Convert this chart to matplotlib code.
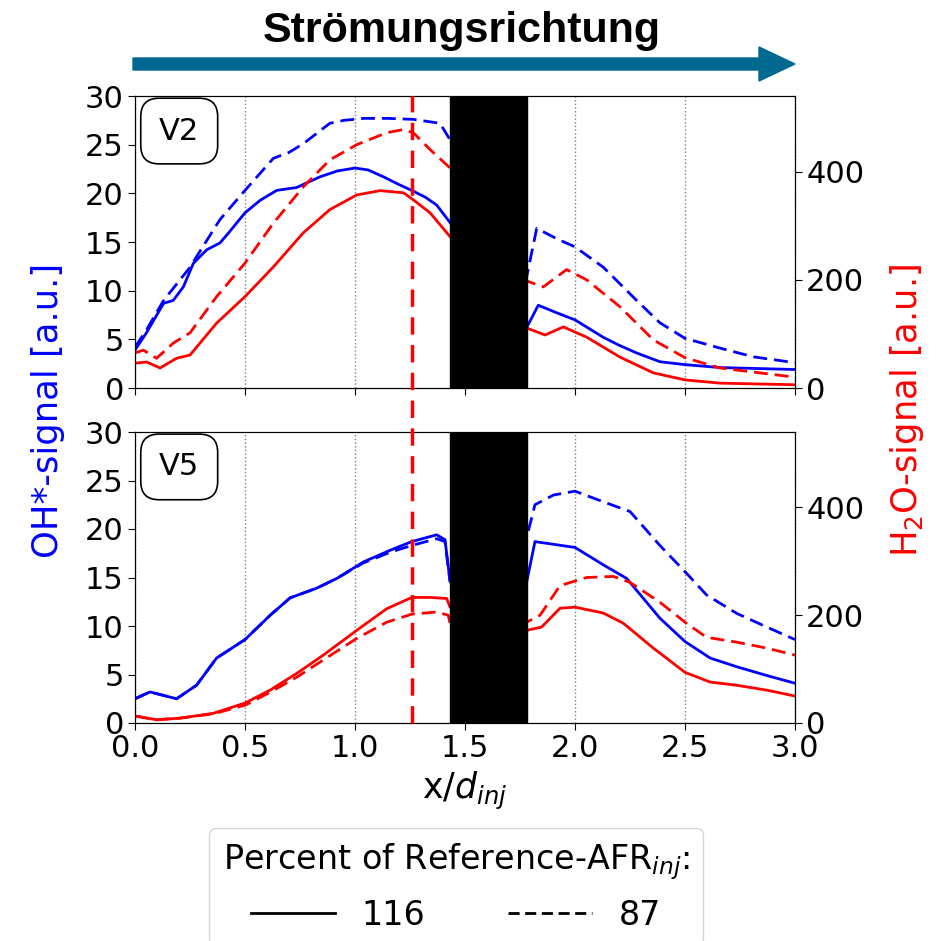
import matplotlib
matplotlib.use("Agg")
import matplotlib.pyplot as plt
from matplotlib.patches import FancyArrow
from matplotlib.lines import Line2D

# ---------------- data ----------------
# V2 (top panel)
v2_oh116_x = [0, 0.05, 0.13, 0.174, 0.22, 0.265, 0.326, 0.386, 0.424, 0.5, 0.57, 0.644, 0.735, 0.841, 0.92, 1.0, 1.06,
              1.129, 1.2, 1.258, 1.32, 1.371, 1.432,
              1.78, 1.833, 1.92, 2.0, 2.129, 2.2, 2.28, 2.386, 2.5, 2.659, 3.0]
v2_oh116_y = [3.9, 5.6, 8.7, 9.0, 10.4, 12.8, 14.2, 14.9, 15.9, 18.0, 19.3, 20.3, 20.6, 21.7, 22.3, 22.6, 22.4,
              21.7, 20.9, 20.3, 19.6, 18.8, 17.0,
              6.2, 8.5, 7.7, 7.0, 5.2, 4.4, 3.6, 2.7, 2.4, 2.1, 1.9]
v2_oh87_x = [0, 0.053, 0.13, 0.25, 0.28, 0.386, 0.5, 0.629, 0.7, 0.765, 0.886, 0.95, 1.038, 1.15, 1.265, 1.386, 1.432,
             1.78, 1.826, 1.92, 2.0, 2.129, 2.28, 2.386, 2.5, 2.659, 2.811, 3.0]
v2_oh87_y = [4.2, 6.0, 9.0, 12.4, 13.5, 17.3, 20.3, 23.6, 24.2, 25.1, 27.2, 27.5, 27.7, 27.7, 27.6, 27.2, 25.5,
             11.4, 16.4, 15.3, 14.5, 12.4, 9.0, 6.7, 5.1, 4.1, 3.2, 2.6]
v2_h2o116_x = [0, 0.053, 0.114, 0.189, 0.25, 0.371, 0.5, 0.629, 0.765, 0.886, 1.008, 1.114, 1.22, 1.265, 1.341, 1.432,
               1.78, 1.864, 1.947, 2.053, 2.205, 2.356, 2.5, 2.659, 3.0]
v2_h2o116_y = [46, 48, 37, 55, 61, 120, 169, 224, 287, 330, 357, 365, 361, 348, 324, 280,
               111, 98, 113, 94, 57, 28, 15, 9, 6]
v2_h2o87_x = [0, 0.038, 0.098, 0.174, 0.25, 0.371, 0.5, 0.629, 0.765, 0.886, 1.008, 1.144, 1.22, 1.265, 1.341, 1.432,
              1.78, 1.856, 1.962, 2.053, 2.205, 2.356, 2.5, 2.659, 3.0]
v2_h2o87_y = [65, 70, 55, 83, 102, 169, 231, 305, 372, 422, 450, 472, 478, 472, 441, 407,
              198, 187, 219, 200, 150, 89, 56, 37, 20]

# V5 (bottom panel)
v5_oh116_x = [0, 0.068, 0.189, 0.28, 0.371, 0.5, 0.614, 0.705, 0.826, 0.917, 1.038, 1.159, 1.258, 1.371, 1.409, 1.432,
              1.78, 1.818, 2.0, 2.129, 2.235, 2.386, 2.5, 2.614, 2.735, 2.871, 3.0]
v5_oh116_y = [2.5, 3.2, 2.5, 3.9, 6.7, 8.6, 11.1, 12.9, 13.9, 14.9, 16.6, 17.8, 18.7, 19.4, 18.9, 14.6,
              14.5, 18.7, 18.1, 16.3, 14.9, 10.8, 8.4, 6.7, 5.8, 4.9, 4.1]
v5_oh87_x = [0, 0.068, 0.189, 0.28, 0.371, 0.5, 0.614, 0.705, 0.826, 0.917, 1.038, 1.159, 1.258, 1.371, 1.409, 1.432,
             1.78, 1.818, 1.902, 2.0, 2.129, 2.25, 2.386, 2.5, 2.598, 2.735, 2.871, 3.0]
v5_oh87_y = [2.5, 3.2, 2.5, 3.9, 6.7, 8.6, 11.1, 12.9, 13.9, 14.9, 16.5, 17.6, 18.3, 19.0, 18.7, 14.6,
             19.1, 22.5, 23.5, 23.9, 22.8, 21.8, 18.3, 15.6, 13.2, 11.3, 9.9, 8.6]
v5_h2o116_x = [0, 0.098, 0.205, 0.356, 0.5, 0.614, 0.735, 0.856, 1.008, 1.144, 1.258, 1.341, 1.417, 1.432,
               1.78, 1.848, 1.932, 2.0, 2.129, 2.22, 2.356, 2.5, 2.614, 2.735, 2.871, 3.0]
v5_h2o116_y = [13, 6, 9, 18, 37, 61, 92, 126, 172, 212, 233, 233, 231, 215,
               172, 178, 213, 215, 204, 185, 139, 94, 76, 70, 61, 50]
v5_h2o87_x = [0, 0.098, 0.205, 0.356, 0.5, 0.614, 0.735, 0.856, 1.008, 1.144, 1.258, 1.371, 1.424, 1.432,
              1.78, 1.841, 1.932, 2.053, 2.174, 2.25, 2.386, 2.5, 2.598, 2.735, 2.871, 3.0]
v5_h2o87_y = [13, 6, 9, 17, 33, 57, 85, 117, 157, 187, 202, 206, 200, 185,
              187, 200, 255, 270, 272, 261, 224, 187, 159, 150, 139, 126]

block_x = [1.432, 1.782]        # hidden (black) region
marker_x = 1.26                 # red dashed marker
panel_labels = ["V2", "V5"]
legend_labels = ["116", "87"]
legend_title = "Percent of Reference-AFR$_{inj}$:"

# ---------------- figure ----------------
W, H = 939, 941
fig = plt.figure(figsize=(W / 100, H / 100), dpi=100)
FS_TICK = 22
FS_LAB = 25
FS_LEG = 24

def fx(px): return px / W
def fy(py): return 1 - py / H

L, R = 135, 795
ax_top = fig.add_axes([fx(L), fy(388), fx(R) - fx(L), fy(96) - fy(388)])
ax_bot = fig.add_axes([fx(L), fy(723), fx(R) - fx(L), fy(432) - fy(723)])

panels = [
    (ax_top, v2_oh116_x, v2_oh116_y, v2_oh87_x, v2_oh87_y, v2_h2o116_x, v2_h2o116_y, v2_h2o87_x, v2_h2o87_y),
    (ax_bot, v5_oh116_x, v5_oh116_y, v5_oh87_x, v5_oh87_y, v5_h2o116_x, v5_h2o116_y, v5_h2o87_x, v5_h2o87_y),
]
dash = (5, 2.5)
for i, (ax, ox1, oy1, ox2, oy2, hx1, hy1, hx2, hy2) in enumerate(panels):
    ax.plot(ox1, oy1, color="blue", lw=2)
    ax.plot(ox2, oy2, color="blue", lw=2, linestyle=(0, dash))
    ax.set_xlim(0, 3)
    ax.set_ylim(0, 30)
    ax.set_yticks([0, 5, 10, 15, 20, 25, 30])
    ax.set_xticks([0, 0.5, 1.0, 1.5, 2.0, 2.5, 3.0])
    ax.grid(axis="x", linestyle=":", color="gray", lw=1)
    ax.tick_params(labelsize=FS_TICK, length=5, pad=3)
    axr = ax.twinx()
    axr.plot(hx1, hy1, color="red", lw=2)
    axr.plot(hx2, hy2, color="red", lw=2, linestyle=(0, dash))
    axr.set_ylim(0, 540)
    axr.set_yticks([0, 200, 400])
    axr.tick_params(labelsize=FS_TICK, length=5, pad=3)
    axr.axvspan(block_x[0], block_x[1], color="black", zorder=5)
    ax.text(0.067, 0.88, panel_labels[i], transform=ax.transAxes, fontsize=FS_TICK,
            ha="center", va="center", zorder=10,
            bbox=dict(boxstyle="round,pad=0.6", fc="white", ec="black", lw=1.2))

ax_top.tick_params(labelbottom=False)
ax_bot.set_xticklabels(["0.0", "0.5", "1.0", "1.5", "2.0", "2.5", "3.0"])
ax_bot.set_xlabel("x/$d_{inj}$", fontsize=FS_LAB, labelpad=5)

# red vertical marker spanning both panels (figure-level so it is drawn on top)
xm = ax_top.transData.transform((marker_x, 0))[0] / W
fig.add_artist(Line2D([xm, xm], [fy(723), fy(96)], transform=fig.transFigure,
                      color="red", lw=2.5, linestyle=(0, (5, 3)), zorder=6))

# axis labels
fig.text(fx(48), fy(410), "OH*-signal [a.u.]", color="blue", fontsize=25.5,
         rotation=90, ha="center", va="center")
fig.text(fx(907), fy(410), "H$_2$O-signal [a.u.]", color="red", fontsize=25.5,
         rotation=90, ha="center", va="center")

# flow-direction arrow and title
arrow = FancyArrow(1.33, (H - 64) / 100, 6.62, 0, width=0.12, head_width=0.34,
                   head_length=0.36, length_includes_head=True,
                   color="#00698f", transform=fig.dpi_scale_trans)
fig.patches.append(arrow)
fig.text(fx(462), fy(31), "Strömungsrichtung", fontsize=31, fontweight="bold",
         family="Liberation Sans", ha="center", va="center")

# legend
handles = [Line2D([], [], color="black", lw=2, linestyle="-"),
           Line2D([], [], color="black", lw=2, linestyle=(0, (4, 2)))]
leg = fig.legend(handles, legend_labels, loc="upper center", ncol=2,
                 bbox_to_anchor=(fx(456), fy(828)), fontsize=FS_LEG,
                 title=legend_title, title_fontsize=FS_LEG, handlelength=2.5,
                 columnspacing=2.5, frameon=True, borderaxespad=0)

fig.savefig("out.png", dpi=100)
